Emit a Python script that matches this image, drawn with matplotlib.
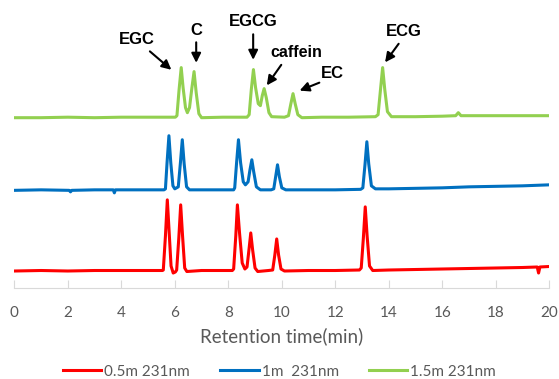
import matplotlib
matplotlib.use("Agg")
from matplotlib import pyplot as plt

# retention time (min) and signal (arbitrary, traces stacked)
red_t = [0, 1, 2, 3, 4, 5, 5.54,
         5.57, 5.65, 5.72, 5.78, 5.86, 5.94,
         6.02, 6.07, 6.15, 6.22, 6.29, 6.37, 6.45,
         7, 7.7, 8.15,
         8.20, 8.28, 8.34, 8.42, 8.52, 8.62,
         8.70, 8.78, 8.84, 8.91, 9.0, 9.1,
         9.5,
         9.66, 9.74, 9.81, 9.88, 9.97, 10.1,
         11, 12, 12.9,
         12.97, 13.05, 13.12, 13.19, 13.28, 13.4,
         14, 15, 16, 17, 18, 19, 19.55, 19.6, 19.65, 20]
red_y = [17, 17.5, 17, 17.5, 17.5, 17.5, 17.5,
         18, 52, 88, 60, 22, 15,
         16, 18, 50, 83, 52, 20, 16.5,
         17.5, 17.5, 17.5,
         19, 52, 83, 55, 25, 19,
         21, 40, 55, 38, 20, 16.5,
         17.5,
         18, 33, 49, 33, 19, 17,
         17.5, 17.5, 18,
         20, 50, 81, 52, 22, 17.5,
         18, 18.5, 19, 19.5, 20, 20.5, 21, 15, 21, 21.5]

blue_t = [0, 1, 2.05, 2.1, 2.15, 3, 3.7, 3.74, 3.78, 4.5, 5.6,
          5.65, 5.71, 5.78, 5.85, 5.93, 6.0,
          6.13, 6.21, 6.28, 6.35, 6.44, 6.55,
          7.5, 8.2,
          8.24, 8.31, 8.38, 8.46, 8.56, 8.64,
          8.74, 8.81, 8.88, 8.95, 9.05, 9.2,
          9.6,
          9.70, 9.77, 9.84, 9.91, 10.0, 10.15,
          11, 12, 12.95,
          13.03, 13.11, 13.18, 13.25, 13.35, 13.5,
          14, 15, 16, 17, 18, 19, 20]
blue_y = [97.5, 98, 97.5, 96, 97.5, 98, 98, 95, 98, 98, 98,
          99, 125, 152, 125, 102, 99,
          101, 125, 148, 124, 101, 98,
          98, 98,
          100, 125, 148, 125, 106, 103,
          106, 118, 128, 116, 101, 98,
          98,
          99, 111, 123, 111, 100, 98,
          98, 98, 98.5,
          100, 123, 146, 124, 102, 99,
          99, 99.5, 100, 101, 101.5, 102, 103]

green_t = [0, 1, 2, 3, 4, 5, 6.02,
           6.08, 6.16, 6.24, 6.31, 6.40, 6.47,
           6.55, 6.64, 6.72, 6.80, 6.90, 7.0,
           7.8, 8.7,
           8.78, 8.86, 8.94, 9.02, 9.12, 9.2,
           9.27, 9.34, 9.42, 9.52, 9.62,
           10.1,
           10.25, 10.34, 10.42, 10.50, 10.60, 10.75,
           11.5, 12.5, 13.5,
           13.60, 13.69, 13.77, 13.85, 13.95, 14.1,
           15, 16, 16.5, 16.6, 16.7, 17.5, 18.5, 20]
green_y = [170, 170, 170.5, 170, 170.5, 170.5, 170.5,
           172, 198, 220, 200, 180, 175,
           180, 200, 216, 195, 174, 170,
           170.5, 170.5,
           173, 198, 218, 200, 184, 182,
           192, 199, 190, 175, 171,
           170.5,
           172, 184, 194, 184, 173, 170,
           170.5, 170.5, 171,
           173, 198, 220, 198, 176, 171,
           171, 171.5, 172, 175, 172, 172, 172, 172]

labels = ["0.5m 231nm", "1m  231nm", "1.5m 231nm"]
colors = ["#FF0000", "#0070C0", "#92D050"]

# peak labels: text, text pos, arrow tail, arrow head
peaks = [
    ("EGC", (4.59, 248), (4.99, 238), (5.95, 216)),
    ("C", (6.82, 257), (6.80, 248), (6.80, 222)),
    ("EGCG", (8.93, 266), (8.93, 256), (8.93, 225)),
    ("caffein", (10.55, 235), (10.04, 225), (9.38, 200)),
    ("EC", (11.88, 214), (11.5, 206), (10.57, 196)),
    ("ECG", (14.58, 256), (14.43, 246), (13.80, 223)),
]

fig = plt.figure(figsize=(5.59, 3.79), dpi=100)
ax = fig.add_axes([0.0256, 0.24, 0.957, 0.735])

for (t, y), lab, c in zip([(red_t, red_y), (blue_t, blue_y), (green_t, green_y)], labels, colors):
    ax.plot(t, y, color=c, lw=2.2, label=lab, solid_joinstyle='round')

for name, txt, tail, head in peaks:
    ax.annotate('', xy=head, xytext=tail,
                arrowprops=dict(arrowstyle='-|>', color='black', lw=1.5, mutation_scale=14))
    fs = 11.5 if name == "caffein" else 12
    ax.text(txt[0], txt[1], name, ha='center', va='center', fontsize=fs,
            fontweight='bold', family='Liberation Sans')

ax.set_xlim(0, 20)
ax.set_ylim(0, 278)
ax.set_xticks(range(0, 21, 2))
ax.set_yticks([])
for s in ['left', 'right', 'top']:
    ax.spines[s].set_visible(False)
ax.spines['bottom'].set_color('#d9d9d9')
ax.tick_params(axis='x', direction='in', length=6, color='#d9d9d9',
               labelcolor='#595959', labelsize=11, pad=13)
for lbl in ax.get_xticklabels():
    lbl.set_family('Lato')
ax.set_xlabel('Retention time(min)', color='#595959', fontsize=13.5, family='Lato', labelpad=5)

leg = fig.legend(loc='lower center', bbox_to_anchor=(0.5, -0.035), ncol=3, frameon=False,
                 prop={'family': 'Lato', 'size': 11}, handlelength=2.5, columnspacing=2.0,
                 handletextpad=0.2)
for t in leg.get_texts():
    t.set_color('#595959')

fig.savefig('out.png', dpi=100)
